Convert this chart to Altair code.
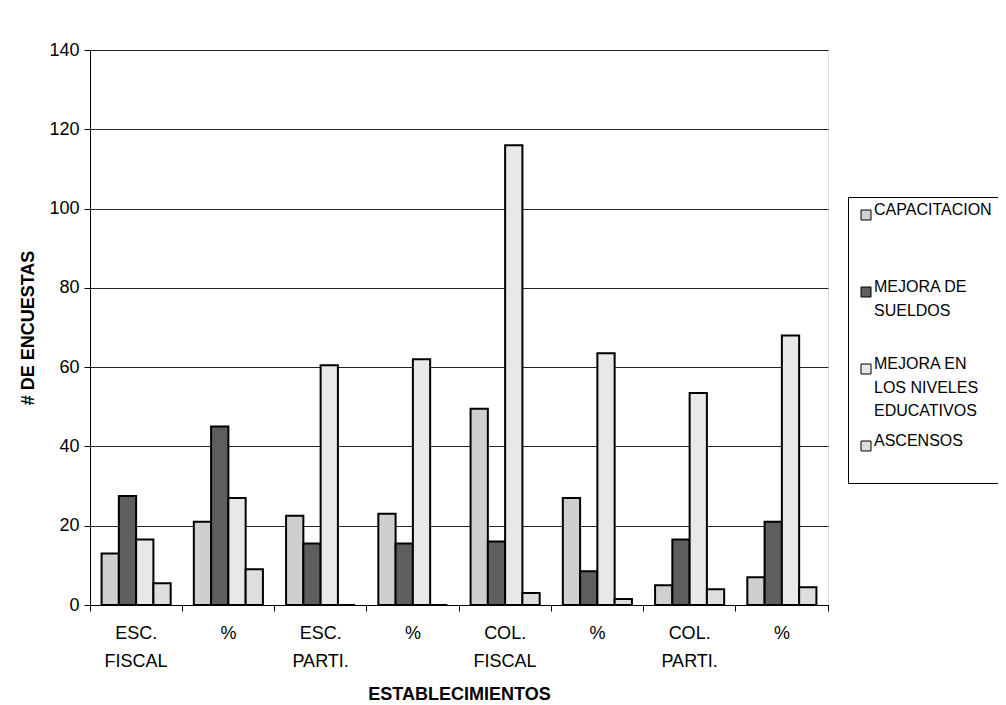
import altair as alt
import pandas as pd

categories = ["ESC. FISCAL", "%", "ESC. PARTI.", "%", "COL. FISCAL", "%", "COL. PARTI.", "%"]
series = ["CAPACITACION", "MEJORA DE SUELDOS", "MEJORA EN LOS NIVELES EDUCATIVOS", "ASCENSOS"]
capacitacion = [13, 21, 22.5, 23, 49.5, 27, 5, 7]
sueldos = [27.5, 45, 15.5, 15.5, 16, 8.5, 16.5, 21]
niveles = [16.5, 27, 60.5, 62, 116, 63.5, 53.5, 68]
ascensos = [5.5, 9, 0, 0, 3, 1.5, 4, 4.5]
colors = ["#cfcfcf", "#5e5e5e", "#e8e8e8", "#dedede"]

rows = []
for s, vals in zip(series, [capacitacion, sueldos, niveles, ascensos]):
    for i, v in enumerate(vals):
        rows.append({"idx": i, "serie": s, "valor": v})
df = pd.DataFrame(rows)

cat_arr = "[" + ",".join("'" + c + "'" for c in categories) + "]"
x_label_expr = "isValid(datum.value) ? split(" + cat_arr + "[datum.value], ' ') : ''"
legend_expr = ("datum.label == 'CAPACITACION' ? ['CAPACITACION', '', ''] : "
               "datum.label == 'MEJORA DE SUELDOS' ? ['MEJORA DE', 'SUELDOS', ''] : "
               "datum.label == 'MEJORA EN LOS NIVELES EDUCATIVOS' ? ['MEJORA EN', 'LOS NIVELES', 'EDUCATIVOS'] : "
               "[datum.label, '']")

FONT = "Liberation Sans"

chart = alt.Chart(df).mark_bar(stroke="black", strokeWidth=2).encode(
    x=alt.X("idx:O", title="ESTABLECIMIENTOS",
            scale=alt.Scale(paddingInner=0, paddingOuter=0),
            axis=alt.Axis(labelExpr=x_label_expr, labelAngle=0, labelFontSize=18,
                          labelColor="black", labelFont=FONT, labelLineHeight=28,
                          bandPosition=1, tickExtra=True,
                          tickColor="black", tickSize=6, domainColor="black",
                          labelPadding=13, titleFontSize=18, titleFont=FONT,
                          titleFontWeight="bold", titleColor="black", titlePadding=15)),
    xOffset=alt.XOffset("serie:N", sort=series,
                        scale=alt.Scale(paddingOuter=0.67, paddingInner=0)),
    y=alt.Y("valor:Q", title="# DE ENCUESTAS",
            scale=alt.Scale(domain=[0, 140]),
            axis=alt.Axis(values=[0, 20, 40, 60, 80, 100, 120, 140], labelFontSize=18,
                          labelFont=FONT, labelColor="black", tickColor="black",
                          tickSize=6, domainColor="black", labelPadding=5,
                          grid=True, gridColor="#222222", gridWidth=1,
                          titleFontSize=18, titleFont=FONT, titleFontWeight="bold",
                          titleColor="black", titlePadding=11)),
    fill=alt.Fill("serie:N", sort=series,
                  scale=alt.Scale(domain=series, range=colors),
                  legend=alt.Legend(title=None, orient="none", legendX=758, legendY=147,
                                    labelExpr=legend_expr, labelFontSize=16,
                                    labelFont=FONT, labelColor="black", labelLimit=300,
                                    labelBaseline="alphabetic",
                                    symbolType="square", symbolSize=100,
                                    symbolStrokeColor="black", symbolStrokeWidth=1,
                                    rowPadding=14, padding=10,
                                    fillColor="white", strokeColor="black",
                                    labelOffset=0)),
).properties(
    width=738, height=555,
    autosize=alt.AutoSizeParams(type="none"),
    padding={"left": 82, "top": 42, "right": 170, "bottom": 98},
).configure_view(
    fill="#bdbdbd", stroke=None
).configure(
    background="white",
    style={"guide-label": {"lineHeight": 23.5}},
)

chart.save("out.html", embed_options={"renderer": "svg", "actions": False})
